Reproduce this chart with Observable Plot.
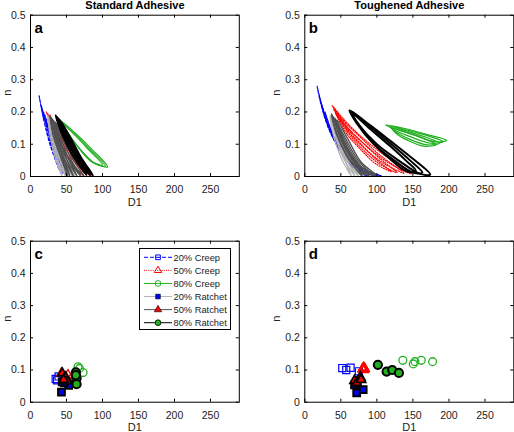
<!DOCTYPE html>
<html><head><meta charset="utf-8">
<script src="https://cdn.jsdelivr.net/npm/d3@7"></script>
<script src="https://cdn.jsdelivr.net/npm/@observablehq/plot@0.6"></script>
<style>
body{margin:0;background:#fff;}
#wrap{position:relative;width:514px;height:432px;overflow:hidden;background:#fff;font-family:"Liberation Sans",Arial,sans-serif;}
#wrap svg{position:absolute;overflow:visible;}
</style></head><body><div id="wrap"></div>
<script>
// ---------- axis ticks / labels ----------
const xTicks = [0, 50, 100, 150, 200, 250];
const xTickLabels = ["0", "50", "100", "150", "200", "250"];
const yTicks = [0, 0.1, 0.2, 0.3, 0.4, 0.5];
const yTickLabels = ["0", "0.1", "0.2", "0.3", "0.4", "0.5"];
const panelTitles = ["Standard Adhesive", "Toughened Adhesive"];
const panelLetters = ["a", "b", "c", "d"];
const xLabel = "D1";
const yLabel = "n";
const legendLabels = ["20% Creep", "50% Creep", "80% Creep", "20% Ratchet", "50% Ratchet", "80% Ratchet"];

// ---------- panel a: Standard adhesive loops (D1, n) ----------
const stdCreep20 = [
  [[12,0.25],[18,0.18],[27,0.1],[40,0.02],[29,0.095],[19,0.17]],
  [[15,0.22],[22,0.16],[31,0.09],[45,0.01],[33,0.085],[23,0.15]],
  [[18,0.2],[26,0.14],[36,0.075],[50,0.0],[38,0.07],[27,0.13]],
  [[20,0.19],[29,0.13],[40,0.07],[54,0.0],[42,0.065],[30,0.12]]
];
const stdCreep50 = [
  [[22,0.2],[34,0.14],[50,0.07],[70,0.005],[52,0.06],[36,0.13]],
  [[24,0.195],[37,0.135],[55,0.065],[78,0.003],[58,0.055],[40,0.12]],
  [[27,0.19],[41,0.13],[60,0.06],[84,0.002],[63,0.05],[44,0.115]]
];
const stdCreep80 = [
  [[42,0.172],[62,0.135],[85,0.085],[107,0.03],[90,0.04],[65,0.095]],
  [[43,0.168],[62,0.13],[83,0.083],[104,0.032],[87,0.043],[64,0.097]],
  [[45,0.163],[63,0.125],[82,0.08],[100,0.036],[84,0.047],[63,0.1]]
];
const stdRatchet20 = [
  [[24,0.19],[30,0.13],[37,0.06],[44,0.0],[34,0.06],[27,0.13]],
  [[25,0.185],[32,0.125],[40,0.06],[49,0.0],[37,0.055],[29,0.125]],
  [[27,0.18],[35,0.12],[44,0.055],[54,0.0],[41,0.05],[31,0.12]],
  [[28,0.175],[37,0.115],[47,0.05],[59,0.0],[44,0.045],[33,0.115]],
  [[30,0.17],[39,0.11],[50,0.045],[62,0.0],[47,0.04],[35,0.11]]
];
const stdRatchet50 = [
  [[27,0.19],[34,0.135],[43,0.07],[52,0.0],[41,0.065],[31,0.13]],
  [[28,0.185],[36,0.13],[45,0.065],[55,0.0],[43,0.06],[33,0.125]],
  [[30,0.18],[39,0.125],[49,0.06],[60,0.0],[47,0.055],[35,0.12]],
  [[32,0.175],[42,0.12],[53,0.055],[65,0.0],[51,0.05],[37,0.115]],
  [[34,0.17],[45,0.115],[57,0.05],[70,0.0],[55,0.045],[40,0.11]],
  [[36,0.165],[48,0.11],[61,0.045],[75,0.0],[58,0.04],[42,0.105]]
];
const stdRatchet80 = [
  [[35,0.19],[48,0.135],[63,0.07],[78,0.005],[60,0.06],[45,0.125]],
  [[37,0.185],[51,0.13],[67,0.065],[83,0.003],[65,0.055],[48,0.12]],
  [[39,0.18],[54,0.125],[70,0.06],[87,0.002],[69,0.05],[51,0.115]],
  [[41,0.175],[55,0.12],[69,0.06],[81,0.01],[66,0.05],[52,0.11]]
];

// ---------- panel b: Toughened adhesive loops ----------
const tghCreep20 = [
  [[17,0.28],[23,0.22],[33,0.15],[50,0.08],[75,0.03],[106,0.002],[78,0.025],[53,0.07],[36,0.14],[25,0.21]],
  [[20,0.25],[27,0.19],[38,0.125],[55,0.065],[78,0.02],[100,0.002],[80,0.015],[58,0.055],[41,0.115],[29,0.18]],
  [[24,0.22],[32,0.16],[44,0.1],[60,0.045],[82,0.005],[63,0.04],[47,0.09],[34,0.15]],
  [[28,0.2],[37,0.14],[50,0.08],[66,0.03],[88,0.0],[69,0.025],[53,0.07],[39,0.13]]
];
const tghCreep50 = [
  [[38,0.22],[55,0.175],[75,0.13],[105,0.075],[148,0.008],[118,0.04],[88,0.09],[60,0.15]],
  [[40,0.21],[57,0.165],[78,0.12],[105,0.065],[138,0.01],[110,0.04],[84,0.085],[60,0.14]],
  [[42,0.2],[58,0.155],[78,0.11],[102,0.06],[128,0.012],[103,0.04],[80,0.085],[60,0.135]],
  [[43,0.195],[58,0.15],[76,0.105],[98,0.055],[120,0.015],[98,0.04],[77,0.085],[59,0.13]]
];
const tghCreep80 = [
  [[112,0.16],[140,0.148],[170,0.13],[197,0.112],[180,0.108],[150,0.13],[122,0.15]],
  [[116,0.157],[145,0.142],[172,0.125],[192,0.108],[175,0.103],[148,0.122],[124,0.145]],
  [[119,0.154],[147,0.137],[170,0.12],[187,0.103],[170,0.098],[145,0.116],[125,0.14]],
  [[121,0.15],[148,0.132],[168,0.115],[182,0.099],[165,0.094],[143,0.112],[126,0.135]]
];
const tghRatchet20 = [
  [[35,0.19],[43,0.13],[53,0.065],[65,0.0],[50,0.06],[40,0.125]],
  [[37,0.185],[46,0.125],[57,0.06],[70,0.0],[54,0.055],[43,0.12]],
  [[39,0.18],[49,0.12],[61,0.055],[75,0.0],[58,0.05],[45,0.115]],
  [[41,0.175],[52,0.115],[65,0.05],[80,0.0],[62,0.045],[48,0.11]]
];
const tghRatchet50 = [
  [[37,0.195],[48,0.135],[63,0.065],[80,0.0],[59,0.06],[44,0.13]],
  [[38,0.19],[50,0.13],[66,0.06],[85,0.0],[62,0.055],[46,0.125]],
  [[40,0.185],[53,0.125],[70,0.055],[90,0.0],[66,0.05],[49,0.12]],
  [[42,0.18],[56,0.12],[74,0.05],[96,0.0],[70,0.045],[51,0.115]],
  [[45,0.175],[60,0.115],[78,0.045],[102,0.0],[74,0.04],[54,0.11]]
];
const tghRatchet80 = [
  [[62,0.205],[90,0.16],[120,0.108],[150,0.055],[174,0.006],[160,0.008],[130,0.05],[100,0.1],[75,0.16]],
  [[64,0.2],[92,0.152],[120,0.1],[146,0.05],[163,0.012],[150,0.012],[124,0.05],[96,0.1],[72,0.165]],
  [[66,0.195],[92,0.145],[118,0.095],[140,0.05],[154,0.018],[142,0.015],[118,0.055],[92,0.11],[72,0.17]]
];

// ---------- panel c: Standard adhesive summary points ----------
const cCreep20 = [[35,0.072],[37,0.068],[39,0.08]];
const cCreep50 = [[43,0.09],[52,0.085],[57,0.076],[60,0.07]];
const cCreep80 = [[66,0.11],[68,0.105],[73,0.092]];
const cRatchet20 = [[43,0.031],[44,0.063],[53,0.052],[47,0.06]];
const cRatchet50 = [[44,0.09],[49,0.077],[51,0.065],[46,0.07]];
const cRatchet80 = [[63,0.093],[64,0.074],[64,0.056],[63,0.084]];

// ---------- panel d: Toughened adhesive summary points ----------
const dCreep20 = [[52,0.106],[57.5,0.1],[63.5,0.107],[75,0.096]];
const dCreep50 = [[80,0.103],[81,0.106],[82,0.108],[83,0.104],[82,0.1],[81.5,0.103],[82.5,0.105]];
const dCreep80 = [[136,0.13],[150.5,0.119],[152.8,0.126],[161.6,0.13],[177.3,0.126]];
const dRatchet20 = [[72,0.029],[81,0.039],[69,0.054],[73,0.06]];
const dRatchet50 = [[69,0.067],[72,0.06],[77,0.078],[78,0.07]];
const dRatchet80 = [[101.4,0.116],[113.5,0.095],[121.3,0.1],[130.6,0.091]];

// ---------- styles ----------
const BLUE = "#0000ff", RED = "#ff0000", GREEN = "#22b022", LGRAY = "#b4b4b4", DGRAY = "#505050", BLACK = "#000000";
const FONT = "'Liberation Sans', Arial, sans-serif";

function loopRows(loops) {
  return loops.flatMap((loop, i) => loop.map(([x, y]) => ({x, y, i})));
}
function loopMark(loops, stroke, strokeWidth, dash) {
  return Plot.line(loopRows(loops), {x: "x", y: "y", z: "i", curve: "catmull-rom-closed",
    stroke, strokeWidth, strokeDasharray: dash, fill: "none"});
}
function pts(arr) { return arr.map(([x, y]) => ({x, y})); }
function dotMark(arr, symbol, r, fill, stroke, strokeWidth) {
  return Plot.dot(pts(arr), {x: "x", y: "y", symbol, r, fill, stroke, strokeWidth});
}

function makePanel({left, top, width, height, mt, mb, ml, mr, ndx, title, letter, marks}) {
  const ph = height - mt - mb, pw = width - ml - mr, tk = 3;
  const all = [
    ...marks,
    Plot.frame({stroke: BLACK, strokeWidth: 1}),
    Plot.tickX(xTicks, {x: d => d, insetTop: ph - tk, stroke: BLACK}),
    Plot.tickX(xTicks, {x: d => d, insetBottom: ph - tk, stroke: BLACK}),
    Plot.tickY(yTicks, {y: d => d, insetRight: pw - tk, stroke: BLACK}),
    Plot.tickY(yTicks, {y: d => d, insetLeft: pw - tk, stroke: BLACK}),
    Plot.text(xTicks, {x: d => d, text: (d, i) => xTickLabels[i], frameAnchor: "bottom", lineAnchor: "bottom", dy: 16.7, fontSize: 10.5, fill: "#222"}),
    Plot.text(yTicks, {y: d => d, text: (d, i) => yTickLabels[i], frameAnchor: "left", textAnchor: "end", dx: -5, fontSize: 10.5, fill: "#222"}),
    Plot.text([xLabel], {text: d => d, frameAnchor: "bottom", lineAnchor: "bottom", dy: 29, fontSize: 11, fill: "#222"}),
    Plot.text([yLabel], {text: d => d, frameAnchor: "left", rotate: -90, dx: ndx, fontSize: 11, fill: "#222"}),
    Plot.text([letter], {text: d => d, frameAnchor: "top-left", textAnchor: "start", lineAnchor: "bottom", dx: 4, dy: 17.3, fontSize: 15, fontWeight: "bold", fill: BLACK})
  ];
  if (title) all.push(Plot.text([title], {text: d => d, frameAnchor: "top", lineAnchor: "bottom", dy: -6.4, fontSize: 11, fontWeight: "bold", fill: BLACK}));
  const svg = Plot.plot({
    width, height, marginTop: mt, marginBottom: mb, marginLeft: ml, marginRight: mr,
    x: {domain: [0, 290], axis: null},
    y: {domain: [0, 0.5], axis: null},
    style: {fontFamily: FONT, background: "transparent", overflow: "visible"},
    marks: all
  });
  svg.style.left = left + "px";
  svg.style.top = top + "px";
  return svg;
}

function loopMarks(c20, c50, c80, r20, r50, r80) {
  return [
    loopMark(c20, BLUE, 1.2, "3,2"),
    loopMark(c50, RED, 1.2, "1,1.5"),
    loopMark(c80, GREEN, 1.2, null),
    loopMark(r20, LGRAY, 1.3, null),
    loopMark(r50, DGRAY, 1.3, null),
    loopMark(r80, BLACK, 2, null)
  ];
}
function pointMarks(c20, c50, c80, r20, r50, r80) {
  return [
    dotMark(c20, "square", 4, "none", BLUE, 1.2),
    dotMark(c50, "triangle", 3.4, "none", RED, 1.4),
    dotMark(c80, "circle", 3.9, "none", GREEN, 1.3),
    dotMark(r20, "square", 3.8, BLUE, BLACK, 2),
    dotMark(r50, "triangle", 3.4, RED, BLACK, 1.8),
    dotMark(r80, "circle", 4.1, GREEN, BLACK, 2)
  ];
}

const wrap = document.getElementById("wrap");
wrap.appendChild(makePanel({left: 0, top: 0, width: 257, height: 215, mt: 14.7, mb: 39, ml: 30, mr: 18.2, ndx: -23.3,
  title: panelTitles[0], letter: panelLetters[0],
  marks: loopMarks(stdCreep20, stdCreep50, stdCreep80, stdRatchet20, stdRatchet50, stdRatchet80)}));
wrap.appendChild(makePanel({left: 257, top: 0, width: 257, height: 215, mt: 14.7, mb: 39, ml: 47.3, mr: 0.7, ndx: -28.3,
  title: panelTitles[1], letter: panelLetters[1],
  marks: loopMarks(tghCreep20, tghCreep50, tghCreep80, tghRatchet20, tghRatchet50, tghRatchet80)}));
wrap.appendChild(makePanel({left: 0, top: 215, width: 257, height: 217, mt: 25.7, mb: 30.3, ml: 30, mr: 18.2, ndx: -23.3,
  title: null, letter: panelLetters[2],
  marks: pointMarks(cCreep20, cCreep50, cCreep80, cRatchet20, cRatchet50, cRatchet80)}));
wrap.appendChild(makePanel({left: 257, top: 215, width: 257, height: 217, mt: 25.7, mb: 30.3, ml: 47.3, mr: 0.7, ndx: -28.3,
  title: null, letter: panelLetters[3],
  marks: pointMarks(dCreep20, dCreep50, dCreep80, dRatchet20, dRatchet50, dRatchet80)}));

// ---------- legend (panel c) ----------
const legendStyle = [
  {line: BLUE, dash: "4,2", sym: d3.symbolSquare, size: 22, fill: "none", ms: BLUE, msw: 1},
  {line: RED, dash: "1,1.2", sym: d3.symbolTriangle, size: 24, fill: "none", ms: RED, msw: 1},
  {line: GREEN, dash: null, sym: d3.symbolCircle, size: 26, fill: "none", ms: GREEN, msw: 1},
  {line: LGRAY, dash: null, sym: d3.symbolSquare, size: 22, fill: BLUE, ms: BLACK, msw: 0.6},
  {line: DGRAY, dash: null, sym: d3.symbolTriangle, size: 24, fill: RED, ms: BLACK, msw: 0.6},
  {line: BLACK, dash: null, sym: d3.symbolCircle, size: 26, fill: GREEN, ms: BLACK, msw: 0.8}
];
const lg = d3.select(wrap).append("svg")
  .attr("width", 92).attr("height", 82)
  .style("left", "139px").style("top", "248px");
lg.append("rect").attr("x", 0.5).attr("y", 0.5).attr("width", 91).attr("height", 81)
  .attr("fill", "#fff").attr("stroke", BLACK).attr("stroke-width", 1);
legendLabels.forEach((label, i) => {
  const s = legendStyle[i], y = 9.3 + i * 13.08;
  lg.append("line").attr("x1", 5).attr("x2", 33).attr("y1", y).attr("y2", y)
    .attr("stroke", s.line).attr("stroke-width", 1).attr("stroke-dasharray", s.dash);
  lg.append("path").attr("d", d3.symbol(s.sym, s.size)()).attr("transform", `translate(19,${y})`)
    .attr("fill", s.fill).attr("stroke", s.ms).attr("stroke-width", s.msw);
  lg.append("text").attr("x", 34.5).attr("y", y + 3.3).text(label)
    .attr("font-size", 9.3).attr("font-family", FONT).attr("fill", "#222");
});
</script></body></html>
